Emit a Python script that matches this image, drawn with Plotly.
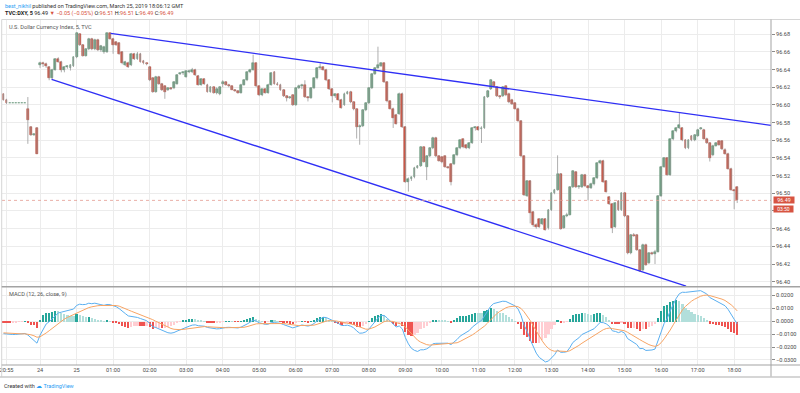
import plotly.graph_objects as go

# ---------------- data (5-min DXY bars) ----------------
opens = [96.612, 96.606, 96.602, 96.602, 96.602, 96.602, 96.602, 96.602, 96.596, 96.575, 96.566, 96.574,
         96.645, 96.647, 96.646, 96.643, 96.630, 96.640, 96.652, 96.649, 96.640, 96.643, 96.642, 96.644,
         96.654, 96.680, 96.668, 96.656, 96.663, 96.675, 96.663, 96.674, 96.662, 96.660, 96.660, 96.681,
         96.675, 96.671, 96.670, 96.660, 96.645, 96.648, 96.645, 96.658, 96.652, 96.658, 96.650, 96.647,
         96.643, 96.630, 96.615, 96.632, 96.624, 96.621, 96.617, 96.619, 96.619, 96.624, 96.635, 96.636,
         96.632, 96.637, 96.637, 96.640, 96.633, 96.623, 96.629, 96.623, 96.615, 96.620, 96.614, 96.612,
         96.624, 96.626, 96.623, 96.621, 96.617, 96.616, 96.614, 96.623, 96.628, 96.637, 96.640, 96.647,
         96.621, 96.611, 96.618, 96.614, 96.623, 96.637, 96.624, 96.623, 96.617, 96.610, 96.608, 96.611,
         96.600, 96.619, 96.621, 96.623, 96.609, 96.608, 96.619, 96.630, 96.642, 96.643, 96.640, 96.628,
         96.618, 96.610, 96.612, 96.606, 96.600, 96.613, 96.615, 96.603, 96.595, 96.575, 96.576, 96.594,
         96.602, 96.619, 96.635, 96.642, 96.644, 96.647, 96.626, 96.604, 96.596, 96.589, 96.590, 96.613,
         96.575, 96.513, 96.516, 96.518, 96.529, 96.531, 96.552, 96.530, 96.542, 96.551, 96.563, 96.542,
         96.541, 96.542, 96.530, 96.533, 96.533, 96.543, 96.551, 96.561, 96.555, 96.551, 96.557, 96.574,
         96.575, 96.573, 96.574, 96.609, 96.618, 96.626, 96.620, 96.610, 96.610, 96.621, 96.613, 96.606,
         96.602, 96.596, 96.582, 96.542, 96.497, 96.514, 96.479, 96.464, 96.471, 96.465, 96.471, 96.461,
         96.481, 96.500, 96.504, 96.522, 96.461, 96.474, 96.476, 96.507, 96.524, 96.507, 96.507, 96.521,
         96.508, 96.506, 96.510, 96.517, 96.534, 96.537, 96.514, 96.496, 96.488, 96.462, 96.491, 96.481,
         96.500, 96.474, 96.432, 96.453, 96.453, 96.436, 96.413, 96.442, 96.421, 96.432, 96.431, 96.434,
         96.497, 96.530, 96.540, 96.521, 96.561, 96.570, 96.574, 96.574, 96.560, 96.551, 96.565, 96.560,
         96.565, 96.573, 96.572, 96.562, 96.557, 96.543, 96.554, 96.559, 96.559, 96.549, 96.545, 96.528,
         96.504, 96.507]
highs = [96.613, 96.607, 96.602, 96.602, 96.602, 96.602, 96.602, 96.602, 96.609, 96.576, 96.568, 96.575,
         96.649, 96.649, 96.648, 96.644, 96.641, 96.653, 96.654, 96.650, 96.644, 96.645, 96.646, 96.655,
         96.682, 96.681, 96.669, 96.664, 96.676, 96.676, 96.675, 96.675, 96.668, 96.667, 96.682, 96.682,
         96.676, 96.672, 96.671, 96.661, 96.650, 96.649, 96.659, 96.659, 96.660, 96.659, 96.651, 96.648,
         96.644, 96.631, 96.633, 96.633, 96.625, 96.622, 96.620, 96.620, 96.627, 96.635, 96.637, 96.638,
         96.639, 96.640, 96.642, 96.641, 96.634, 96.630, 96.630, 96.624, 96.621, 96.621, 96.620, 96.621,
         96.628, 96.627, 96.624, 96.622, 96.618, 96.617, 96.624, 96.629, 96.638, 96.641, 96.657, 96.648,
         96.622, 96.618, 96.619, 96.624, 96.637, 96.638, 96.626, 96.624, 96.618, 96.611, 96.610, 96.612,
         96.620, 96.623, 96.624, 96.628, 96.610, 96.620, 96.631, 96.643, 96.647, 96.644, 96.641, 96.629,
         96.619, 96.613, 96.613, 96.607, 96.614, 96.616, 96.616, 96.604, 96.596, 96.578, 96.595, 96.603,
         96.620, 96.636, 96.643, 96.666, 96.648, 96.648, 96.627, 96.605, 96.597, 96.590, 96.614, 96.614,
         96.576, 96.518, 96.519, 96.530, 96.532, 96.553, 96.553, 96.543, 96.552, 96.564, 96.564, 96.543,
         96.542, 96.543, 96.531, 96.534, 96.544, 96.552, 96.561, 96.562, 96.556, 96.558, 96.575, 96.576,
         96.576, 96.576, 96.610, 96.617, 96.629, 96.627, 96.621, 96.611, 96.621, 96.622, 96.614, 96.607,
         96.603, 96.597, 96.583, 96.543, 96.515, 96.515, 96.480, 96.466, 96.472, 96.472, 96.472, 96.482,
         96.501, 96.505, 96.543, 96.523, 96.475, 96.478, 96.508, 96.526, 96.525, 96.509, 96.522, 96.522,
         96.509, 96.512, 96.518, 96.535, 96.538, 96.538, 96.515, 96.497, 96.489, 96.490, 96.492, 96.501,
         96.501, 96.475, 96.454, 96.455, 96.454, 96.437, 96.443, 96.443, 96.433, 96.434, 96.436, 96.498,
         96.531, 96.541, 96.541, 96.562, 96.571, 96.575, 96.591, 96.575, 96.561, 96.561, 96.566, 96.567,
         96.573, 96.575, 96.573, 96.563, 96.558, 96.555, 96.558, 96.560, 96.560, 96.551, 96.546, 96.529,
         96.505, 96.508]
lows = [96.605, 96.601, 96.602, 96.602, 96.602, 96.602, 96.602, 96.602, 96.556, 96.565, 96.565, 96.545,
        96.642, 96.643, 96.642, 96.628, 96.629, 96.639, 96.648, 96.637, 96.637, 96.641, 96.639, 96.643,
        96.653, 96.667, 96.655, 96.655, 96.662, 96.662, 96.662, 96.661, 96.660, 96.658, 96.659, 96.674,
        96.658, 96.667, 96.657, 96.646, 96.644, 96.642, 96.644, 96.651, 96.651, 96.648, 96.646, 96.645,
        96.627, 96.614, 96.614, 96.623, 96.616, 96.607, 96.616, 96.617, 96.618, 96.623, 96.634, 96.634,
        96.631, 96.636, 96.636, 96.633, 96.622, 96.622, 96.623, 96.614, 96.614, 96.613, 96.612, 96.611,
        96.620, 96.622, 96.620, 96.617, 96.615, 96.613, 96.613, 96.622, 96.627, 96.636, 96.639, 96.620,
        96.610, 96.610, 96.613, 96.613, 96.622, 96.623, 96.622, 96.616, 96.609, 96.604, 96.607, 96.599,
        96.599, 96.618, 96.618, 96.608, 96.604, 96.607, 96.618, 96.629, 96.640, 96.639, 96.627, 96.617,
        96.603, 96.608, 96.605, 96.596, 96.599, 96.612, 96.602, 96.594, 96.562, 96.555, 96.575, 96.593,
        96.601, 96.618, 96.634, 96.641, 96.643, 96.625, 96.603, 96.595, 96.574, 96.578, 96.589, 96.574,
        96.512, 96.502, 96.514, 96.517, 96.528, 96.530, 96.535, 96.515, 96.541, 96.550, 96.541, 96.536,
        96.534, 96.529, 96.528, 96.509, 96.532, 96.542, 96.550, 96.551, 96.550, 96.550, 96.556, 96.571,
        96.571, 96.557, 96.573, 96.608, 96.617, 96.620, 96.609, 96.607, 96.609, 96.610, 96.602, 96.600,
        96.595, 96.581, 96.541, 96.497, 96.496, 96.466, 96.462, 96.460, 96.461, 96.464, 96.458, 96.459,
        96.480, 96.499, 96.503, 96.459, 96.460, 96.473, 96.475, 96.506, 96.506, 96.505, 96.506, 96.507,
        96.492, 96.505, 96.509, 96.516, 96.533, 96.512, 96.501, 96.487, 96.455, 96.461, 96.480, 96.480,
        96.473, 96.431, 96.431, 96.451, 96.435, 96.411, 96.412, 96.418, 96.420, 96.430, 96.420, 96.433,
        96.496, 96.529, 96.520, 96.520, 96.560, 96.569, 96.573, 96.559, 96.550, 96.550, 96.559, 96.559,
        96.564, 96.572, 96.561, 96.556, 96.536, 96.542, 96.553, 96.554, 96.549, 96.544, 96.527, 96.503,
        96.482, 96.489]
closes = [96.606, 96.602, 96.602, 96.602, 96.602, 96.602, 96.602, 96.602, 96.583, 96.566, 96.567, 96.545,
          96.647, 96.646, 96.644, 96.630, 96.640, 96.652, 96.649, 96.640, 96.643, 96.643, 96.645, 96.654,
          96.681, 96.668, 96.656, 96.663, 96.675, 96.663, 96.674, 96.662, 96.667, 96.666, 96.681, 96.675,
          96.668, 96.668, 96.658, 96.647, 96.649, 96.643, 96.658, 96.652, 96.658, 96.649, 96.647, 96.646,
          96.628, 96.615, 96.632, 96.624, 96.617, 96.615, 96.619, 96.618, 96.626, 96.634, 96.636, 96.636,
          96.638, 96.638, 96.640, 96.634, 96.623, 96.629, 96.624, 96.615, 96.620, 96.614, 96.618, 96.620,
          96.626, 96.623, 96.621, 96.617, 96.616, 96.614, 96.623, 96.628, 96.637, 96.640, 96.647, 96.621,
          96.611, 96.618, 96.614, 96.623, 96.636, 96.624, 96.623, 96.617, 96.610, 96.608, 96.609, 96.600,
          96.619, 96.621, 96.623, 96.609, 96.608, 96.619, 96.630, 96.642, 96.643, 96.640, 96.628, 96.618,
          96.610, 96.612, 96.606, 96.597, 96.613, 96.615, 96.603, 96.595, 96.575, 96.576, 96.594, 96.602,
          96.619, 96.635, 96.642, 96.645, 96.647, 96.626, 96.604, 96.596, 96.585, 96.579, 96.613, 96.575,
          96.513, 96.516, 96.518, 96.529, 96.531, 96.552, 96.536, 96.542, 96.551, 96.563, 96.542, 96.537,
          96.535, 96.530, 96.529, 96.513, 96.543, 96.551, 96.560, 96.552, 96.551, 96.557, 96.574, 96.575,
          96.572, 96.574, 96.609, 96.616, 96.628, 96.621, 96.610, 96.609, 96.620, 96.611, 96.603, 96.601,
          96.596, 96.582, 96.542, 96.498, 96.514, 96.478, 96.464, 96.462, 96.462, 96.471, 96.459, 96.481,
          96.500, 96.504, 96.522, 96.460, 96.474, 96.476, 96.507, 96.525, 96.507, 96.507, 96.521, 96.508,
          96.506, 96.511, 96.517, 96.534, 96.537, 96.513, 96.502, 96.488, 96.461, 96.489, 96.481, 96.500,
          96.474, 96.432, 96.453, 96.452, 96.436, 96.412, 96.442, 96.419, 96.432, 96.431, 96.434, 96.497,
          96.530, 96.540, 96.521, 96.561, 96.570, 96.574, 96.577, 96.560, 96.551, 96.560, 96.560, 96.566,
          96.572, 96.574, 96.562, 96.557, 96.540, 96.554, 96.557, 96.555, 96.550, 96.545, 96.528, 96.504,
          96.503, 96.492]

tick_bars = [1, 12, 24, 36, 48, 60, 72, 84, 96, 108, 120, 132, 144, 156, 168, 180, 192, 204, 216, 228, 240]
tick_labels = ["20:55", "24", "25", "01:00", "02:00", "03:00", "04:00", "05:00", "06:00", "07:00", "08:00",
               "09:00", "10:00", "11:00", "12:00", "13:00", "14:00", "15:00", "16:00", "17:00", "18:00"]
price_ticks = [96.40, 96.42, 96.44, 96.46, 96.48, 96.50, 96.52, 96.54, 96.56, 96.58, 96.60, 96.62, 96.64, 96.66, 96.68]
# 96.48 sits under the countdown badge in the picture, so its label is not shown
price_tick_labels = ["96.40", "96.42", "96.44", "96.46", "", "96.50", "96.52", "96.54", "96.56", "96.58",
                     "96.60", "96.62", "96.64", "96.66", "96.68"]
macd_ticks = [-0.03, -0.02, -0.01, 0.0, 0.01, 0.02]
macd_tick_labels = ["\u22120.0300", "\u22120.0200", "\u22120.0100", "0.0000", "0.0100", "0.0200"]

# trend lines drawn by the author (bar index, price)
upper_line_bars = [35.2, 252.1]
upper_line_prices = [96.681, 96.577]
lower_line_bars = [15.8, 224.2]
lower_line_prices = [96.629, 96.395]

# MACD(12, 26, close, 9) state at the first visible bar
ema_fast_seed = 96.618
ema_slow_seed = 96.6273
signal_seed = -0.0088

# ---------------- derived ----------------
n = len(closes)
bars = list(range(n))

a_fast, a_slow, a_sig = 2 / 13, 2 / 27, 2 / 10
ef, es, sg = ema_fast_seed, ema_slow_seed, signal_seed
macd, signal = [], []
for c in closes:
    ef += a_fast * (c - ef)
    es += a_slow * (c - es)
    m = ef - es
    sg += a_sig * (m - sg)
    macd.append(m)
    signal.append(sg)
hist = [m - s for m, s in zip(macd, signal)]
hist_colors = []
for i, h in enumerate(hist):
    prev = hist[i - 1] if i > 0 else h
    if h >= 0:
        hist_colors.append("#26a69a" if h > prev else "#b2dfdb")
    else:
        hist_colors.append("#ffcdd2" if h > prev else "#ef5350")

UP, DOWN = "#6ba583", "#d75442"
UP_B, DOWN_B = "#3f7a57", "#9c3526"
body_base = [min(o, c) for o, c in zip(opens, closes)]
body_h = [max(abs(c - o), 0.0008) for o, c in zip(opens, closes)]
body_col = [UP if c >= o else DOWN for o, c in zip(opens, closes)]
body_line = [UP_B if c >= o else DOWN_B for o, c in zip(opens, closes)]

wx, wy = [], []
for i in bars:
    wx += [i, i, None]
    wy += [lows[i], highs[i], None]

# ---------------- geometry helpers (pixels -> paper) ----------------
W, H = 800, 393
ML, MR, MT, MB = 2, 29, 20, 28
PW, PH = W - ML - MR, H - MT - MB
def px(x):
    return (x - ML) / PW
def py(y):
    return (H - MB - y) / PH

split = py(286.7)
x_range = [-0.49, 252.1]
y_range = [96.3943, 96.6962]
def price_at(y):
    return y_range[1] - (y - MT) / (286.7 - MT) * (y_range[1] - y_range[0])

fig = go.Figure()

# candle wicks
fig.add_trace(go.Scatter(x=wx, y=wy, mode="lines", line=dict(color="#9a9a9a", width=0.8),
                         xaxis="x", yaxis="y", hoverinfo="skip"))
# candle bodies
fig.add_trace(go.Bar(x=bars, y=body_h, base=body_base, width=0.62,
                     marker=dict(color=body_col, line=dict(color=body_line, width=0.5)),
                     xaxis="x", yaxis="y", hoverinfo="skip"))
# trend lines
fig.add_trace(go.Scatter(x=upper_line_bars, y=upper_line_prices, mode="lines",
                         line=dict(color="#2f2ff5", width=1.3), xaxis="x", yaxis="y"))
fig.add_trace(go.Scatter(x=lower_line_bars, y=lower_line_prices, mode="lines",
                         line=dict(color="#2f2ff5", width=1.3), xaxis="x", yaxis="y"))

# MACD pane
fig.add_trace(go.Bar(x=bars, y=hist, width=0.72, marker=dict(color=hist_colors, line=dict(width=0)),
                     xaxis="x2", yaxis="y2", hoverinfo="skip"))
fig.add_trace(go.Scatter(x=bars, y=macd, mode="lines", line=dict(color="#5aaff0", width=1),
                         xaxis="x2", yaxis="y2"))
fig.add_trace(go.Scatter(x=bars, y=signal, mode="lines", line=dict(color="#f7a464", width=1),
                         xaxis="x2", yaxis="y2"))

GRID = "#ececec"
AX_FONT = dict(family="Roboto", size=5.6, color="#4a4a4a")

fig.update_layout(
    width=W, height=H, autosize=False,
    margin=dict(l=ML, r=MR, t=MT, b=MB, pad=0),
    paper_bgcolor="white", plot_bgcolor="white",
    showlegend=False, hovermode=False, bargap=0,
    font=dict(family="Roboto", size=6, color="#4a4a4a"),
    xaxis=dict(domain=[0, 1], anchor="y", range=x_range, tickvals=tick_bars, ticktext=tick_labels,
               showticklabels=False, showgrid=True, gridcolor=GRID, gridwidth=1, zeroline=False,
               showline=False, ticks=""),
    yaxis=dict(domain=[split, 1], anchor="x", side="right", range=y_range,
               tickvals=price_ticks, ticktext=price_tick_labels,
               showgrid=True, gridcolor=GRID, zeroline=False, showline=False,
               ticks="outside", ticklen=3, tickcolor="#8a8a8a", tickfont=AX_FONT, automargin=False),
    xaxis2=dict(domain=[0, 1], anchor="y2", range=x_range, matches="x", tickvals=tick_bars,
                ticktext=tick_labels, showgrid=True, gridcolor=GRID, zeroline=False, showline=False,
                ticks="", tickfont=AX_FONT, ticklabeloverflow="allow", automargin=False),
    yaxis2=dict(domain=[0, split], anchor="x2", side="right", range=[-0.03388, 0.02682],
                tickvals=macd_ticks, ticktext=macd_tick_labels, showgrid=True, gridcolor=GRID,
                zeroline=False, showline=False, ticks="outside", ticklen=3, tickcolor="#8a8a8a",
                tickfont=AX_FONT, automargin=False),
)

BORDER = "#a3a3a3"
shapes = [
    # last price dotted line
    dict(type="line", xref="x", yref="y", x0=x_range[0], x1=x_range[1], y0=closes[-1], y1=closes[-1],
         line=dict(color="#e39a90", width=0.8, dash="dot")),
    # outer frame
    dict(type="line", xref="paper", yref="paper", x0=px(1.7), x1=px(800), y0=py(19.5), y1=py(19.5),
         line=dict(color="#d6d6d6", width=1)),
    dict(type="line", xref="paper", yref="paper", x0=px(1.7), x1=px(1.7), y0=py(19.5), y1=py(377),
         line=dict(color="#d6d6d6", width=1)),
    # price-scale separator
    dict(type="line", xref="paper", yref="paper", x0=px(771), x1=px(771), y0=py(19.5), y1=py(377),
         line=dict(color=BORDER, width=1)),
    # pane separator
    dict(type="line", xref="paper", yref="paper", x0=px(1.7), x1=px(800), y0=py(286.7), y1=py(286.7),
         line=dict(color=BORDER, width=1.6)),
    # time-axis top and bottom
    dict(type="line", xref="paper", yref="paper", x0=px(1.7), x1=px(800), y0=py(365), y1=py(365),
         line=dict(color=BORDER, width=1)),
    dict(type="line", xref="paper", yref="paper", x0=px(0), x1=px(800), y0=py(377), y1=py(377),
         line=dict(color="#c8c8c8", width=1.6)),
]
fig.update_layout(shapes=shapes)

RED = "#d75442"
ann = [
    dict(x=px(3), y=py(5.7), xref="paper", yref="paper", xanchor="left", yanchor="middle", showarrow=False,
         text="<span style='color:#2a9df4'>best_nikhil</span> published on TradingView.com, March 25, 2019 18:06:12 GMT",
         font=dict(family="Roboto", size=5.5, color="#333333")),
    dict(x=px(3), y=py(13.4), xref="paper", yref="paper", xanchor="left", yanchor="middle", showarrow=False,
         text=("<b>TVC:DXY, 5</b> 96.49 <span style='color:%s'>\u25bc \u22120.05 (\u22120.05%%)</span> "
               "O:<span style='color:%s'>96.51</span> H:<span style='color:%s'>96.51</span> "
               "L:<span style='color:%s'>96.49</span> C:<span style='color:%s'>96.49</span>") % (RED, RED, RED, RED, RED),
         font=dict(family="Roboto", size=5.5, color="#222222")),
    dict(x=px(7), y=py(26.5), xref="paper", yref="paper", xanchor="left", yanchor="middle", showarrow=False,
         text="U.S. Dollar Currency Index, 5, TVC", font=dict(family="Roboto", size=5.6, color="#555555")),
    dict(x=px(7), y=py(294.5), xref="paper", yref="paper", xanchor="left", yanchor="middle", showarrow=False,
         text="MACD (12, 26, close, 9)", font=dict(family="Roboto", size=5.6, color="#555555")),
    dict(x=px(2), y=py(385.5), xref="paper", yref="paper", xanchor="left", yanchor="middle", showarrow=False,
         text="Created with <span style='color:#2a9df4'>\u2601 TradingView</span>",
         font=dict(family="Roboto", size=5.5, color="#333333")),
    # last price label and countdown
    dict(x=px(772.7), y=price_at(200.3), xref="paper", yref="y", xanchor="left", yanchor="middle",
         showarrow=False, text="96.49", bgcolor=RED, borderpad=0, width=20, height=6,
         font=dict(family="Roboto", size=5.3, color="white")),
    dict(x=px(773.3), y=price_at(209.2), xref="paper", yref="y", xanchor="left", yanchor="middle",
         showarrow=False, text="03:50", bgcolor=RED, borderpad=0, width=19, height=5.6,
         font=dict(family="Roboto", size=5.0, color="white")),
]
fig.update_layout(annotations=ann)

fig.write_html("out.html", config={"displayModeBar": False},
               post_script="document.body.style.margin='0';document.body.style.padding='0';")
